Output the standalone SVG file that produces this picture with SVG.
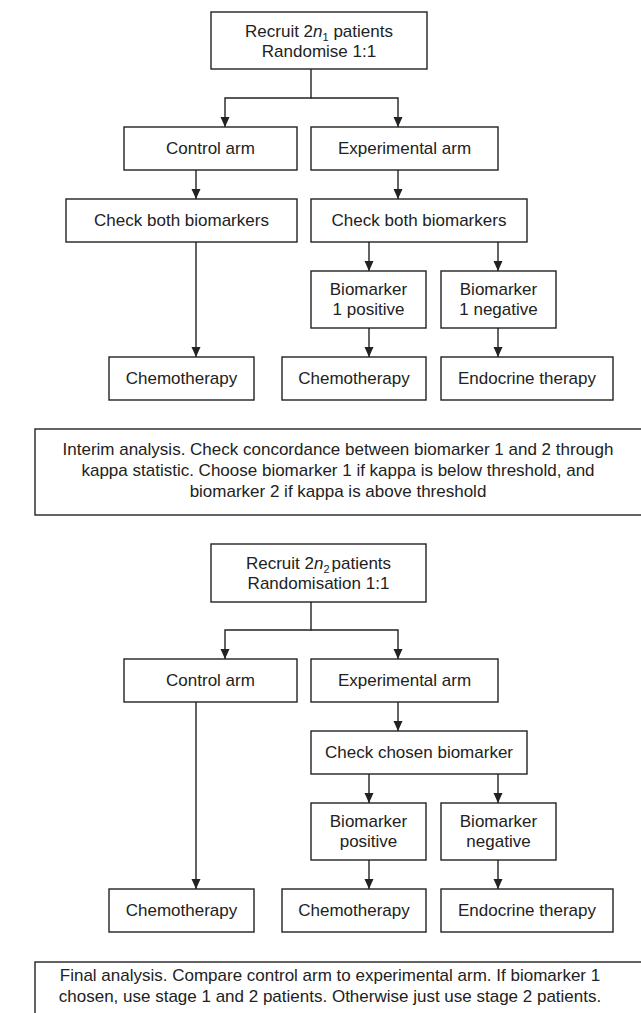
<svg xmlns="http://www.w3.org/2000/svg" width="641" height="1013" viewBox="0 0 641 1013">
<style>
.box{fill:#fff;stroke:#222;stroke-width:1.4}
.t{font-family:"Liberation Sans",Arial,sans-serif;font-size:17px;fill:#222;text-anchor:middle}
.c{fill:none;stroke:#222;stroke-width:1.4}
</style>
<defs>
<marker id="ah" markerUnits="userSpaceOnUse" markerWidth="10" markerHeight="10" refX="10" refY="4.5" orient="auto">
<path d="M0,0 L10,4.5 L0,9 z" fill="#222"/>
</marker>
</defs>
<rect width="641" height="1013" fill="#fff"/>
<g id="connectors">
<path class="c" d="M311,69 V98 H225 V127" marker-end="url(#ah)"/>
<path class="c" d="M311,98 H398 V127" marker-end="url(#ah)"/>
<path class="c" d="M196,170 V199" marker-end="url(#ah)"/>
<path class="c" d="M398,170 V199" marker-end="url(#ah)"/>
<path class="c" d="M196,242 V357" marker-end="url(#ah)"/>
<path class="c" d="M369,242 V271" marker-end="url(#ah)"/>
<path class="c" d="M498,242 V271" marker-end="url(#ah)"/>
<path class="c" d="M369,328 V357" marker-end="url(#ah)"/>
<path class="c" d="M498,328 V357" marker-end="url(#ah)"/>
<path class="c" d="M311,602 V630 H225 V659" marker-end="url(#ah)"/>
<path class="c" d="M311,630 H398 V659" marker-end="url(#ah)"/>
<path class="c" d="M196,702 V889" marker-end="url(#ah)"/>
<path class="c" d="M398,702 V731" marker-end="url(#ah)"/>
<path class="c" d="M369,774 V803" marker-end="url(#ah)"/>
<path class="c" d="M498,774 V803" marker-end="url(#ah)"/>
<path class="c" d="M369,860 V889" marker-end="url(#ah)"/>
<path class="c" d="M498,860 V889" marker-end="url(#ah)"/>
</g>
<g id="recruit1"><rect class="box" x="211" y="12" width="216" height="57"/>
<text class="t" x="319" y="37">Recruit 2<tspan font-style="italic">n</tspan><tspan font-size="11" dy="4">1</tspan><tspan dy="-4"> patients</tspan></text>
<text class="t" x="319" y="57">Randomise 1:1</text></g>
<g id="control1"><rect class="box" x="124" y="127" width="173" height="43"/><text class="t" x="210.5" y="154">Control arm</text></g>
<g id="exp1"><rect class="box" x="311" y="127" width="187" height="43"/><text class="t" x="404.5" y="154">Experimental arm</text></g>
<g id="checkL1"><rect class="box" x="66" y="199" width="231" height="43"/><text class="t" x="181.5" y="226">Check both biomarkers</text></g>
<g id="checkR1"><rect class="box" x="311" y="199" width="216" height="43"/><text class="t" x="419" y="226">Check both biomarkers</text></g>
<g id="pos1"><rect class="box" x="311" y="271" width="115" height="57"/><text class="t" x="368.5" y="295">Biomarker</text><text class="t" x="368.5" y="315">1 positive</text></g>
<g id="neg1"><rect class="box" x="441" y="271" width="115" height="57"/><text class="t" x="498.5" y="295">Biomarker</text><text class="t" x="498.5" y="315">1 negative</text></g>
<g id="chemoL1"><rect class="box" x="109" y="357" width="145" height="43"/><text class="t" x="181.5" y="384">Chemotherapy</text></g>
<g id="chemoM1"><rect class="box" x="282" y="357" width="144" height="43"/><text class="t" x="354" y="384">Chemotherapy</text></g>
<g id="endo1"><rect class="box" x="441" y="357" width="172" height="43"/><text class="t" x="527" y="384">Endocrine therapy</text></g>
<g id="interim"><rect class="box" x="35" y="429" width="620" height="86"/>
<text class="t" x="338" y="455">Interim analysis. Check concordance between biomarker 1 and 2 through</text>
<text class="t" x="338" y="476">kappa statistic. Choose biomarker 1 if kappa is below threshold, and</text>
<text class="t" x="338" y="497">biomarker 2 if kappa is above threshold</text></g>
<g id="recruit2"><rect class="box" x="211" y="544" width="215" height="58"/>
<text class="t" x="318.5" y="569">Recruit 2<tspan font-style="italic">n</tspan><tspan font-size="11" dy="4">2</tspan><tspan dy="-4" dx="2">patients</tspan></text>
<text class="t" x="318.5" y="589">Randomisation 1:1</text></g>
<g id="control2"><rect class="box" x="124" y="659" width="173" height="43"/><text class="t" x="210.5" y="686">Control arm</text></g>
<g id="exp2"><rect class="box" x="311" y="659" width="187" height="43"/><text class="t" x="404.5" y="686">Experimental arm</text></g>
<g id="check2"><rect class="box" x="311" y="731" width="216" height="43"/><text class="t" x="419" y="758">Check chosen biomarker</text></g>
<g id="pos2"><rect class="box" x="311" y="803" width="115" height="57"/><text class="t" x="368.5" y="827">Biomarker</text><text class="t" x="368.5" y="847">positive</text></g>
<g id="neg2"><rect class="box" x="441" y="803" width="115" height="57"/><text class="t" x="498.5" y="827">Biomarker</text><text class="t" x="498.5" y="847">negative</text></g>
<g id="chemoL2"><rect class="box" x="109" y="889" width="145" height="43"/><text class="t" x="181.5" y="916">Chemotherapy</text></g>
<g id="chemoM2"><rect class="box" x="282" y="889" width="144" height="43"/><text class="t" x="354" y="916">Chemotherapy</text></g>
<g id="endo2"><rect class="box" x="441" y="889" width="172" height="43"/><text class="t" x="527" y="916">Endocrine therapy</text></g>
<g id="final"><rect class="box" x="35" y="962" width="620" height="70"/>
<text class="t" x="330" y="981">Final analysis. Compare control arm to experimental arm. If biomarker 1</text>
<text class="t" x="330" y="1002">chosen, use stage 1 and 2 patients. Otherwise just use stage 2 patients.</text></g>
</svg>
